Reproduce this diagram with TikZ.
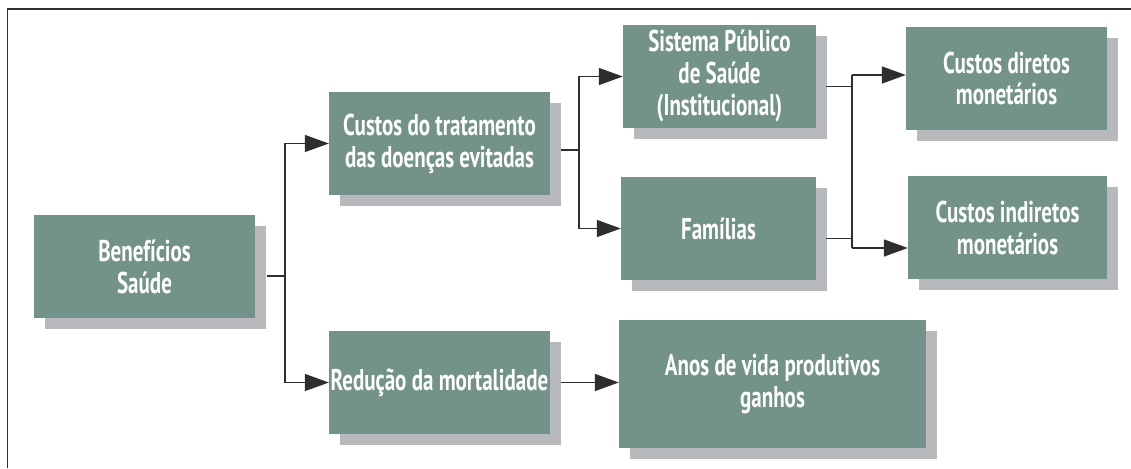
\documentclass[tikz,border=0pt]{standalone}
\usepackage{fontspec}
\setsansfont{PT Sans}[FakeStretch=0.70]
\usepackage{tikz}
\usetikzlibrary{arrows.meta,shadows}

\definecolor{boxgreen}{HTML}{73938A}
\definecolor{shadowgray}{HTML}{B8B9BD}
\definecolor{linegray}{HTML}{2E2E2E}

\tikzset{
  card/.style={fill=boxgreen,text=white,inner sep=0pt,align=center,
    font=\sffamily\bfseries\fontsize{30}{32}\selectfont,
    drop shadow={shadow xshift=11pt,shadow yshift=-11pt,fill=shadowgray,opacity=1}},
  link/.style={draw=linegray,line width=1.5pt},
  arr/.style={link,-{Triangle[length=24pt,width=17pt]}}
}

\begin{document}
\begin{tikzpicture}[x=1pt,y=-1pt]
\useasboundingbox (0,0) rectangle (1131,468);
\draw[linegray,line width=1.5pt] (7.5,468) -- (7.5,9) -- (1131,9);

\node[card,minimum width=221pt,minimum height=103pt] (ben) at (144.5,266.5) {Benefícios\\Saúde};
\node[card,minimum width=221pt,minimum height=103pt] (cus) at (439.5,143.5) {Custos do tratamento\\das doenças evitadas};
\node[card,minimum width=221pt,minimum height=103pt] (red) at (439.5,382.5) {Redução da mortalidade};
\node[card,minimum width=193pt,minimum height=103pt] (sis) at (719.5,76.5) {Sistema Público\\de Saúde\\(Institucional)};
\node[card,minimum width=195pt,minimum height=103pt] (fam) at (718.5,228.5) {Famílias};
\node[card,minimum width=307pt,minimum height=128pt] (anos) at (772.5,384) {Anos de vida produtivos\\ganhos};
\node[card,minimum width=201pt,minimum height=103pt] (dir) at (1006.5,78.5) {Custos diretos\\monetários};
\node[card,minimum width=199pt,minimum height=103pt] (ind) at (1007.5,227.5) {Custos indiretos\\monetários};

% benefícios
\coordinate (b1) at (285,276);
\draw[link] ([xshift=12pt]ben.east |- b1) -- (b1);
\draw[arr] (b1) |- (cus.west);
\draw[arr] (b1) |- (red.west);

% custos do tratamento
\coordinate (c1) at (579,150);
\draw[link] ([xshift=11pt]cus.east |- c1) -- (c1);
\draw[arr] (c1) |- (sis.west);
\draw[arr] (c1) |- (fam.west);

% mortalidade
\draw[arr] ([xshift=11pt]red.east) -- (red.east -| anos.west);

% custos monetários
\coordinate (d1) at (852,75);
\coordinate (d2) at (852,248);
\draw[link] (d1) -- (d2);
\draw[link] ([xshift=10pt,yshift=-10pt]sis.east) -- ([yshift=-10pt]sis.east -| d1);
\draw[link] ([xshift=10pt,yshift=-10pt]fam.east) -- ([yshift=-10pt]fam.east -| d1);
\draw[arr] (d1) -- (d1 -| dir.west);
\draw[arr] (d2) -- (d2 -| ind.west);
\end{tikzpicture}
\end{document}
